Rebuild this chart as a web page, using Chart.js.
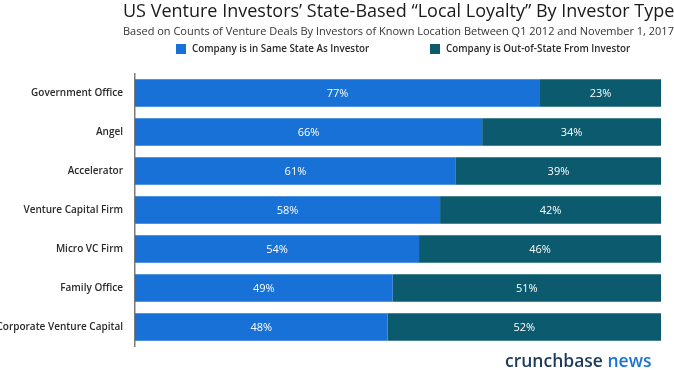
<!DOCTYPE html>
<html>
<head>
<meta charset="utf-8">
<script src="https://cdn.jsdelivr.net/npm/chart.js@4"></script>
<style>
  html, body { margin: 0; padding: 0; background: #fff; }
  #wrap { width: 674px; height: 370px; position: relative; }
</style>
</head>
<body>
<div id="wrap"><canvas id="loyaltyChart" width="674" height="370"></canvas></div>
<script>
// ────────────────────────────────────────
// Data
// ────────────────────────────────────────
const investorTypes = [
    'Government Office',
    'Angel',
    'Accelerator',
    'Venture Capital Firm',
    'Micro VC Firm',
    'Family Office',
    'Corporate Venture Capital',
];
const sameState = [77, 66, 61, 58, 54, 49, 48];
const outOfState = [23, 34, 39, 42, 46, 51, 52];

const TITLE = 'US Venture Investors\u2019 State-Based \u201cLocal Loyalty\u201d By Investor Type';
const SUBTITLE = 'Based on Counts of Venture Deals By Investors of Known Location Between Q1 2012 and November 1, 2017.';

const BLUE = '#1771d6';
const TEAL = '#0b5a6e';
const FONT = '"Open Sans", "DejaVu Sans", sans-serif';

// ────────────────────────────────────────
// Plugins — header, legend, labels, logo
// ────────────────────────────────────────
const headerPlugin = {
    id: 'header',
    afterDraw(chart) {
        const { ctx } = chart;
        ctx.save();
        ctx.textBaseline = 'middle';
        ctx.textAlign = 'left';

        ctx.fillStyle = '#1a1a1a';
        ctx.font = '500 18px ' + FONT;
        ctx.fillText(TITLE, 123, 12);

        ctx.fillStyle = '#333';
        ctx.font = '11px ' + FONT;
        ctx.fillText(SUBTITLE, 123, 32);

        // legend
        const items = [
            { x: 176, color: BLUE, text: 'Company is in Same State As Investor' },
            { x: 430, color: TEAL, text: 'Company is Out-of-State From Investor' },
        ];
        ctx.font = '600 9.8px ' + FONT;
        items.forEach(it => {
            ctx.fillStyle = it.color;
            ctx.fillRect(it.x, 44, 10, 10);
            ctx.fillStyle = '#2a2a2a';
            ctx.fillText(it.text, it.x + 16, 49.5);
        });

        // logo
        ctx.font = '600 17.5px ' + FONT;
        ctx.fillStyle = '#1c3a5e';
        ctx.fillText('crunchbase', 505, 362);
        const w = ctx.measureText('crunchbase ').width;
        ctx.fillStyle = '#1a73d9';
        ctx.fillText('news', 505 + w, 362);
        ctx.restore();
    },
};

const valueLabels = {
    id: 'valueLabels',
    afterDatasetsDraw(chart) {
        const { ctx } = chart;
        ctx.save();
        ctx.fillStyle = '#fff';
        ctx.font = '500 11px ' + FONT;
        ctx.textAlign = 'center';
        ctx.textBaseline = 'middle';
        chart.data.datasets.forEach((ds, i) => {
            chart.getDatasetMeta(i).data.forEach((bar, j) => {
                const left = Math.min(bar.x, bar.base);
                const right = Math.max(bar.x, bar.base);
                ctx.fillText(ds.data[j] + '%', (left + right) / 2, bar.y + 0.5);
            });
        });
        ctx.restore();
    },
};

// ────────────────────────────────────────
// Chart
// ────────────────────────────────────────
new Chart(document.getElementById('loyaltyChart'), {
    type: 'bar',
    data: {
        labels: investorTypes,
        datasets: [
            { label: 'Company is in Same State As Investor', data: sameState, backgroundColor: BLUE },
            { label: 'Company is Out-of-State From Investor', data: outOfState, backgroundColor: TEAL },
        ],
    },
    options: {
        indexAxis: 'y',
        responsive: false,
        animation: false,
        layout: { padding: { top: 73.5, right: 13, bottom: 23.5, left: 0 } },
        datasets: { bar: { categoryPercentage: 1, barPercentage: 0.7 } },
        plugins: {
            legend: { display: false },
            tooltip: { enabled: false },
        },
        scales: {
            x: { stacked: true, min: 0, max: 100, display: false },
            y: {
                stacked: true,
                grid: { display: false, drawTicks: false },
                border: { display: true, color: '#7a7a7a', width: 1.5 },
                ticks: {
                    padding: 12,
                    color: '#2a2a2a',
                    font: { family: FONT, size: 10, weight: '600' },
                },
                afterFit(scale) { scale.width = 135; },
            },
        },
    },
    plugins: [headerPlugin, valueLabels],
});
</script>
</body>
</html>
